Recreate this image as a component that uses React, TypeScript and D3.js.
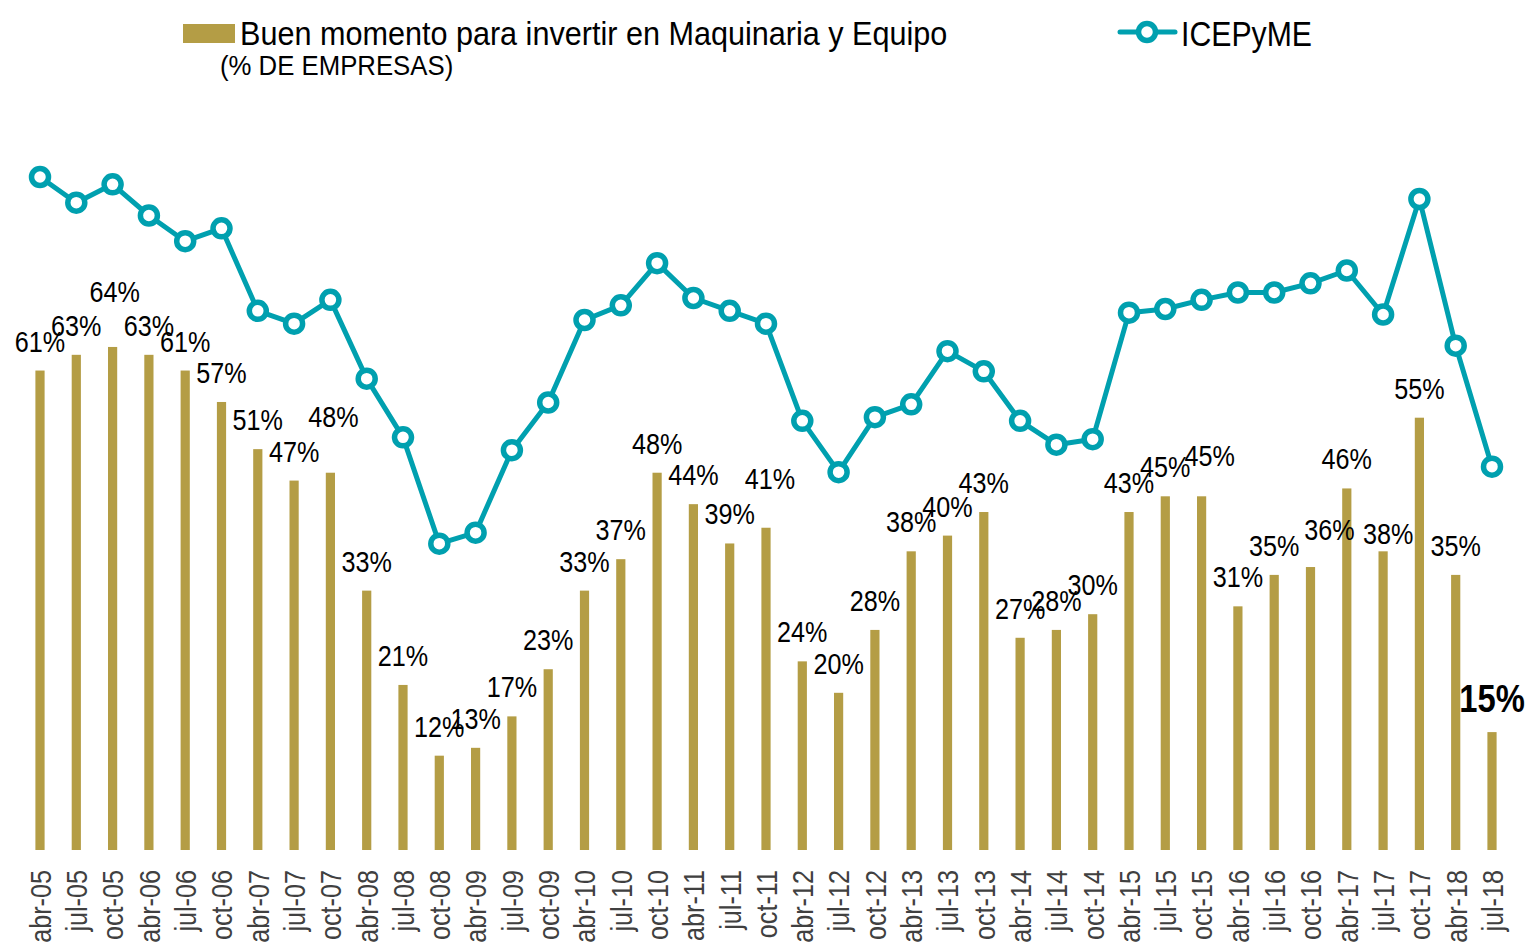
import * as d3 from "d3";

const categories = [
  "abr-05", "jul-05", "oct-05",
  "abr-06", "jul-06", "oct-06",
  "abr-07", "jul-07", "oct-07",
  "abr-08", "jul-08", "oct-08",
  "abr-09", "jul-09", "oct-09",
  "abr-10", "jul-10", "oct-10",
  "abr-11", "jul-11", "oct-11",
  "abr-12", "jul-12", "oct-12",
  "abr-13", "jul-13", "oct-13",
  "abr-14", "jul-14", "oct-14",
  "abr-15", "jul-15", "oct-15",
  "abr-16", "jul-16", "oct-16",
  "abr-17", "jul-17", "oct-17",
  "abr-18", "jul-18",
];

// % de empresas: buen momento para invertir en maquinaria y equipo
const inversion = [
  61, 63, 64, 63, 61, 57, 51, 47, 48, 33, 21, 12, 13, 17, 23, 33, 37, 48, 44, 39, 41,
  24, 20, 28, 38, 40, 43, 27, 28, 30, 43, 45, 45, 31, 35, 36, 46, 38, 55, 35, 15,
];

// ICEPyME (eje secundario, sin escala visible)
const icepyme = [
  60.8, 59.4, 60.4, 58.7, 57.3, 58.0, 53.5, 52.8, 54.1, 49.8, 46.6, 40.8, 41.4, 45.9,
  48.5, 53.0, 53.8, 56.1, 54.2, 53.5, 52.8, 47.5, 44.7, 47.7, 48.4, 51.3, 50.2, 47.5,
  46.2, 46.5, 53.4, 53.6, 54.1, 54.5, 54.5, 55.0, 55.7, 53.3, 59.6, 51.6, 45.0,
];

// labels that Excel pushed out of the default spot: index -> [dx, dy from bar top]
const labelNudge: Record<number, [number, number]> = {
  2: [2, -45],
  8: [3, -46],
  20: [4, -39],
  32: [8, -30],
  35: [19, -27],
  37: [5, -7],
};

const W = 1528;
const H = 951;
const BAR = "#B49D45";
const LINE = "#00A0AF";
const FONT = "'Liberation Sans Narrow', 'Arial Narrow', 'Liberation Sans', Arial, sans-serif";
// no narrow face installed, so squeeze the regular one
const NARROW = 0.84;

export default function App() {
  const x = d3.scalePoint<string>().domain(categories).range([40, 1492]);
  const yBar = d3.scaleLinear().domain([0, 100]).range([850, 64]);
  const yLine = d3.scaleLinear().domain([35, 65]).range([650, 100]);

  const line = d3
    .line<number>()
    .x((_, i) => x(categories[i]) as number)
    .y((d) => yLine(d));

  const last = inversion.length - 1;

  return (
    <svg
      width={W}
      height={H}
      style={{ position: "absolute", left: 0, top: 0, background: "#fff" }}
      fontFamily={FONT}
    >
      {/* legend */}
      <rect x={183} y={24} width={52} height={19} fill={BAR} />
      <text transform="translate(240,45) scale(0.9,1)" fontSize={34} fill="#000">
        Buen momento para invertir en Maquinaria y Equipo
      </text>
      <text transform="translate(220,75) scale(0.92,1)" fontSize={28} fill="#000">
        (% DE EMPRESAS)
      </text>
      <line x1={1120} x2={1175} y1={32} y2={32} stroke={LINE} strokeWidth={5} strokeLinecap="round" />
      <circle cx={1147} cy={32} r={8.5} fill="#fff" stroke={LINE} strokeWidth={5.5} />
      <text transform={`translate(1181,46) scale(${NARROW},1)`} fontSize={36} fill="#000">
        ICEPyME
      </text>

      {/* bars */}
      {inversion.map((v, i) => (
        <rect
          key={categories[i]}
          x={(x(categories[i]) as number) - 4.6}
          y={yBar(v)}
          width={9.2}
          height={yBar(0) - yBar(v)}
          fill={BAR}
        />
      ))}

      {/* bar labels */}
      {inversion.map((v, i) => {
        const [dx, dy] = labelNudge[i] ?? [0, -19];
        const isLast = i === last;
        const lx = (x(categories[i]) as number) + dx;
        const ly = yBar(v) + (isLast ? -20 : dy);
        return (
          <text
            key={"l" + categories[i]}
            transform={`translate(${lx},${ly}) scale(${NARROW},1)`}
            textAnchor="middle"
            fontSize={isLast ? 39 : 30}
            fontWeight={isLast ? "bold" : "normal"}
            fill="#000"
          >
            {v}%
          </text>
        );
      })}

      {/* ICEPyME line */}
      <path d={line(icepyme) ?? ""} fill="none" stroke={LINE} strokeWidth={5} strokeLinejoin="round" />
      {icepyme.map((v, i) => (
        <circle
          key={"c" + categories[i]}
          cx={x(categories[i]) as number}
          cy={yLine(v)}
          r={8.5}
          fill="#fff"
          stroke={LINE}
          strokeWidth={5.5}
        />
      ))}

      {/* x axis labels */}
      {categories.map((c) => (
        <text
          key={"t" + c}
          transform={`translate(${x(c)},870) rotate(-90) scale(${NARROW},1)`}
          textAnchor="end"
          dy="0.36em"
          fontSize={30}
          fill="#404040"
        >
          {c}
        </text>
      ))}
    </svg>
  );
}
